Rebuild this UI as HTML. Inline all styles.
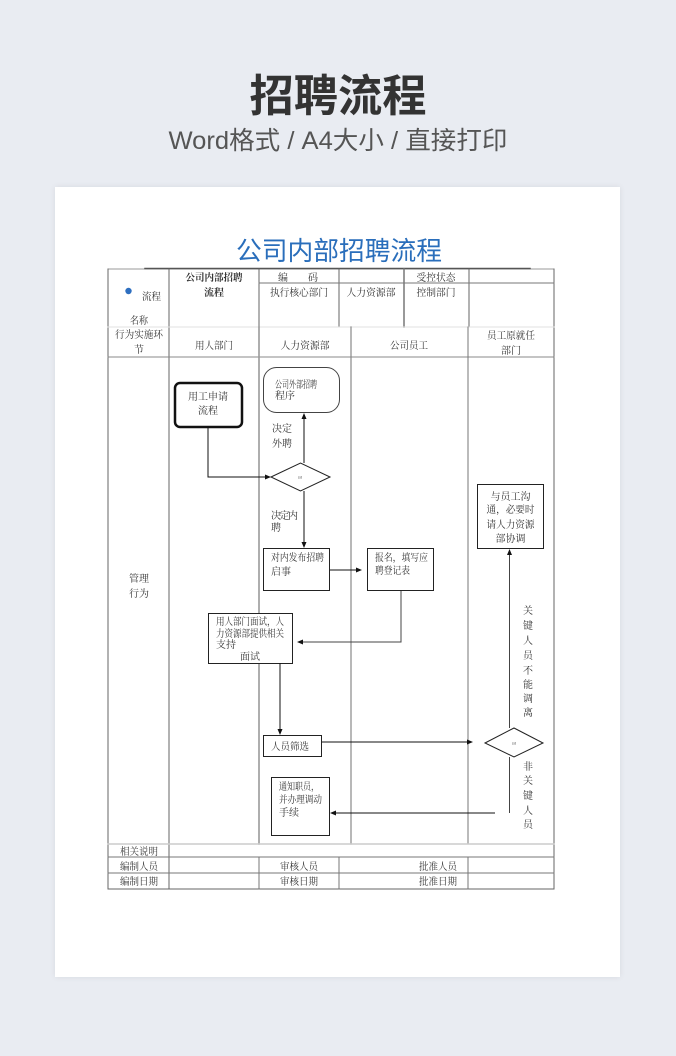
<!DOCTYPE html>
<html><head><meta charset="utf-8">
<style>
html,body{margin:0;padding:0;}
body{width:676px;height:1056px;background:#e9ecf2;position:relative;overflow:hidden;}
.card{position:absolute;left:55px;top:187px;width:565px;height:790px;background:#fff;box-shadow:0 0 6px rgba(0,0,0,0.08);}
svg{position:absolute;left:0;top:0;}
.t{font-family:"Liberation Serif","Noto Serif CJK SC",serif;font-size:10px;fill:#333;}
</style></head>
<body>
<div class="card"></div>
<svg width="676" height="1056" viewBox="0 0 676 1056" xmlns="http://www.w3.org/2000/svg">
<!-- page headings -->
<text x="338" y="111" text-anchor="middle" font-family="Liberation Sans,'Noto Sans CJK SC',sans-serif" font-size="44" font-weight="bold" fill="#333" textLength="177" lengthAdjust="spacingAndGlyphs">招聘流程</text>
<text x="338" y="149" text-anchor="middle" font-family="Liberation Sans,'Noto Sans CJK SC',sans-serif" font-size="25" fill="#555" textLength="339" lengthAdjust="spacingAndGlyphs">Word格式 / A4大小 / 直接打印</text>

<!-- document title -->
<text x="339" y="260" text-anchor="middle" font-family="Liberation Sans,'Noto Sans CJK SC',sans-serif" font-size="26" fill="#2a6ebb" textLength="206" lengthAdjust="spacingAndGlyphs">公司内部招聘流程</text>

<!-- table frame -->
<g fill="none" stroke-linecap="square">
  <line x1="108" y1="269" x2="554" y2="269" stroke="#999" stroke-width="1"/>
  <line x1="145" y1="268.5" x2="530" y2="268.5" stroke="#555" stroke-width="1.5"/>
  <line x1="108" y1="269" x2="108" y2="889" stroke="#666" stroke-width="1"/>
  <line x1="554" y1="269" x2="554" y2="889" stroke="#666" stroke-width="1"/>
  <line x1="169" y1="269" x2="169" y2="889" stroke="#666" stroke-width="1"/>
  <line x1="259" y1="269" x2="259" y2="327" stroke="#666" stroke-width="1"/>
  <line x1="339" y1="269" x2="339" y2="327" stroke="#666" stroke-width="1"/>
  <line x1="404" y1="269" x2="404" y2="327" stroke="#777" stroke-width="1.5"/>
  <line x1="469" y1="269" x2="469" y2="327" stroke="#666" stroke-width="1"/>
  <line x1="259" y1="283" x2="554" y2="283" stroke="#777" stroke-width="1"/>
  <line x1="108" y1="327" x2="554" y2="327" stroke="#e2e2e2" stroke-width="1"/>
  <line x1="108" y1="357" x2="554" y2="357" stroke="#888" stroke-width="1"/>
  <!-- lanes -->
  <line x1="259" y1="327" x2="259" y2="844" stroke="#999" stroke-width="1.6"/>
  <line x1="351" y1="327" x2="351" y2="844" stroke="#888" stroke-width="1.2"/>
  <line x1="468" y1="327" x2="468" y2="844" stroke="#777" stroke-width="1"/>
  <!-- bottom rows -->
  <line x1="108" y1="844" x2="554" y2="844" stroke="#ccc" stroke-width="1.5"/>
  <line x1="108" y1="857" x2="554" y2="857" stroke="#777" stroke-width="1"/>
  <line x1="108" y1="873" x2="554" y2="873" stroke="#777" stroke-width="1"/>
  <line x1="108" y1="889" x2="554" y2="889" stroke="#666" stroke-width="1"/>
  <line x1="259" y1="857" x2="259" y2="889" stroke="#777" stroke-width="1"/>
  <line x1="339" y1="857" x2="339" y2="889" stroke="#777" stroke-width="1"/>
  <line x1="468" y1="857" x2="468" y2="889" stroke="#777" stroke-width="1"/>
</g>

<!-- header texts -->
<circle cx="128.5" cy="291" r="3.2" fill="#2e6fc0"/>
<text class="t" x="142" y="300" textLength="19" lengthAdjust="spacingAndGlyphs">流程</text>
<text class="t" x="130" y="324" textLength="18" lengthAdjust="spacingAndGlyphs">名称</text>
<text class="t" x="139" y="338" text-anchor="middle" textLength="48" lengthAdjust="spacingAndGlyphs">行为实施环</text>
<text class="t" x="139" y="353" text-anchor="middle">节</text>
<text class="t" x="214" y="281" text-anchor="middle" font-weight="bold" fill="#111" textLength="57" lengthAdjust="spacingAndGlyphs">公司内部招聘</text>
<text class="t" x="214" y="296" text-anchor="middle" font-weight="bold" fill="#111">流程</text>
<text class="t" x="283" y="281" text-anchor="middle">编</text>
<text class="t" x="313" y="281" text-anchor="middle">码</text>
<text class="t" x="436" y="281" text-anchor="middle" textLength="39" lengthAdjust="spacingAndGlyphs">受控状态</text>
<text class="t" x="299" y="296" text-anchor="middle" textLength="58" lengthAdjust="spacingAndGlyphs">执行核心部门</text>
<text class="t" x="371" y="296" text-anchor="middle" textLength="49" lengthAdjust="spacingAndGlyphs">人力资源部</text>
<text class="t" x="436" y="296" text-anchor="middle" textLength="39" lengthAdjust="spacingAndGlyphs">控制部门</text>
<text class="t" x="214" y="349" text-anchor="middle" textLength="38" lengthAdjust="spacingAndGlyphs">用人部门</text>
<text class="t" x="305" y="349" text-anchor="middle" textLength="49" lengthAdjust="spacingAndGlyphs">人力资源部</text>
<text class="t" x="409" y="349" text-anchor="middle" textLength="38" lengthAdjust="spacingAndGlyphs">公司员工</text>
<text class="t" x="511" y="339" text-anchor="middle" textLength="48" lengthAdjust="spacingAndGlyphs">员工原就任</text>
<text class="t" x="511" y="354" text-anchor="middle">部门</text>

<!-- left label -->
<text class="t" x="139" y="582" text-anchor="middle">管理</text>
<text class="t" x="139" y="597" text-anchor="middle">行为</text>

<!-- shapes -->
<rect x="175" y="383" width="67" height="44" rx="5" ry="5" fill="#fff" stroke="#111" stroke-width="2.5"/>
<text class="t" x="208" y="400" text-anchor="middle" fill="#222">用工申请</text>
<text class="t" x="208" y="414" text-anchor="middle" fill="#222">流程</text>

<rect x="263.5" y="367.5" width="76" height="45" rx="13" ry="13" fill="#fff" stroke="#444" stroke-width="1"/>
<text class="t" x="275" y="388" font-size="9" textLength="42" lengthAdjust="spacingAndGlyphs">公司外部招聘</text>
<text class="t" x="275" y="399" font-size="9">程序</text>

<text class="t" x="272" y="432" font-size="9.5" textLength="20" lengthAdjust="spacingAndGlyphs">决定</text>
<text class="t" x="272" y="447" font-size="9.5" textLength="20" lengthAdjust="spacingAndGlyphs">外聘</text>

<polygon points="271,477 300.5,463 330,477 300.5,491" fill="#fff" stroke="#222" stroke-width="1"/>
<text x="300" y="478.5" text-anchor="middle" font-family="Liberation Sans,sans-serif" font-size="4" fill="#555">sd</text>

<text class="t" x="271" y="519" font-size="9" textLength="27" lengthAdjust="spacing">决定内</text>
<text class="t" x="271" y="531" font-size="9">聘</text>

<rect x="263.5" y="548.5" width="66" height="42" fill="#fff" stroke="#222" stroke-width="1"/>
<text class="t" x="271" y="561" font-size="9.5" textLength="53" lengthAdjust="spacingAndGlyphs">对内发布招聘</text>
<text class="t" x="271" y="575" font-size="9.5">启事</text>

<rect x="367.5" y="548.5" width="66" height="42" fill="#fff" stroke="#222" stroke-width="1"/>
<text class="t" x="375" y="561" font-size="9.5" textLength="53" lengthAdjust="spacingAndGlyphs">报名，填写应</text>
<text class="t" x="375" y="574" font-size="9.5" textLength="35" lengthAdjust="spacingAndGlyphs">聘登记表</text>

<rect x="477.5" y="484.5" width="66" height="64" fill="#fff" stroke="#222" stroke-width="1"/>
<text class="t" x="510.5" y="500" text-anchor="middle" font-size="9.5" textLength="40" lengthAdjust="spacingAndGlyphs">与员工沟</text>
<text class="t" x="510.5" y="513" text-anchor="middle" font-size="9.5" textLength="48" lengthAdjust="spacingAndGlyphs">通，必要时</text>
<text class="t" x="510.5" y="528" text-anchor="middle" font-size="9.5" textLength="48" lengthAdjust="spacingAndGlyphs">请人力资源</text>
<text class="t" x="510.5" y="542" text-anchor="middle" font-size="9.5" textLength="30" lengthAdjust="spacingAndGlyphs">部协调</text>

<rect x="208.5" y="613.5" width="84" height="50" fill="#fff" stroke="#222" stroke-width="1"/>
<text class="t" x="216" y="625" font-size="9" textLength="68" lengthAdjust="spacingAndGlyphs">用人部门面试，人</text>
<text class="t" x="216" y="637" font-size="9" textLength="68" lengthAdjust="spacingAndGlyphs">力资源部提供相关</text>
<text class="t" x="216" y="648" font-size="9">支持</text>
<text class="t" x="250" y="660" text-anchor="middle" font-size="9.5">面试</text>

<rect x="263.5" y="735.5" width="58" height="21" fill="#fff" stroke="#222" stroke-width="1"/>
<text class="t" x="271" y="750" font-size="10" textLength="38" lengthAdjust="spacingAndGlyphs">人员筛选</text>

<polygon points="485,743 514,728 543,743 514,757" fill="#fff" stroke="#222" stroke-width="1"/>
<text x="514" y="744.5" text-anchor="middle" font-family="Liberation Sans,sans-serif" font-size="4" fill="#555">sd</text>

<rect x="271.5" y="777.5" width="58" height="58" fill="#fff" stroke="#222" stroke-width="1"/>
<text class="t" x="279" y="790" font-size="8.5" textLength="40" lengthAdjust="spacingAndGlyphs">通知职员，</text>
<text class="t" x="279" y="803" font-size="8.5" textLength="43" lengthAdjust="spacingAndGlyphs">并办理调动</text>
<text class="t" x="279" y="816" font-size="8.5">手续</text>

<!-- vertical labels -->
<g class="t" font-size="9.5" text-anchor="middle">
<text class="t" x="528" y="614" text-anchor="middle">关</text>
<text class="t" x="528" y="629" text-anchor="middle">键</text>
<text class="t" x="528" y="644" text-anchor="middle">人</text>
<text class="t" x="528" y="659" text-anchor="middle">员</text>
<text class="t" x="528" y="674" text-anchor="middle">不</text>
<text class="t" x="528" y="688" text-anchor="middle">能</text>
<text class="t" x="528" y="702" text-anchor="middle">调</text>
<text class="t" x="528" y="716" text-anchor="middle">离</text>
<text class="t" x="528" y="770" text-anchor="middle">非</text>
<text class="t" x="528" y="784" text-anchor="middle">关</text>
<text class="t" x="528" y="799" text-anchor="middle">键</text>
<text class="t" x="528" y="814" text-anchor="middle">人</text>
<text class="t" x="528" y="828" text-anchor="middle">员</text>
</g>

<!-- connectors -->
<g fill="none" stroke="#111" stroke-width="1">
  <polyline points="208,427 208,477 266,477"/>
  <line x1="304" y1="463" x2="304" y2="417"/>
  <line x1="304" y1="491" x2="304" y2="544"/>
  <line x1="330" y1="570" x2="358" y2="570"/>
  <polyline points="401,591 401,642 301,642" stroke="#444"/>
  <line x1="280" y1="663" x2="280" y2="731"/>
  <line x1="322" y1="742" x2="469" y2="742"/>
  <line x1="509.5" y1="728" x2="509.5" y2="553" stroke="#444"/>
  <line x1="509.5" y1="757" x2="509.5" y2="813" stroke="#444"/>
  <line x1="495" y1="813" x2="334" y2="813"/>
</g>
<g fill="#111">
  <polygon points="271,477 265,474.5 265,479.5"/>
  <polygon points="304,413 301.5,419 306.5,419"/>
  <polygon points="304,548 301.5,542 306.5,542"/>
  <polygon points="362,570 356,567.5 356,572.5"/>
  <polygon points="297,642 303,639.5 303,644.5"/>
  <polygon points="280,735 277.5,729 282.5,729"/>
  <polygon points="473,742 467,739.5 467,744.5"/>
  <polygon points="509.5,549 507,555 512,555"/>
  <polygon points="330,813 336,810.5 336,815.5"/>
</g>

<!-- bottom row labels -->
<text class="t" x="139" y="855" text-anchor="middle" textLength="38" lengthAdjust="spacingAndGlyphs">相关说明</text>
<text class="t" x="139" y="870" text-anchor="middle" textLength="38" lengthAdjust="spacingAndGlyphs">编制人员</text>
<text class="t" x="139" y="885" text-anchor="middle" textLength="38" lengthAdjust="spacingAndGlyphs">编制日期</text>
<text class="t" x="299" y="870" text-anchor="middle" textLength="38" lengthAdjust="spacingAndGlyphs">审核人员</text>
<text class="t" x="299" y="885" text-anchor="middle" textLength="38" lengthAdjust="spacingAndGlyphs">审核日期</text>
<text class="t" x="438" y="870" text-anchor="middle" textLength="38" lengthAdjust="spacingAndGlyphs">批准人员</text>
<text class="t" x="438" y="885" text-anchor="middle" textLength="38" lengthAdjust="spacingAndGlyphs">批准日期</text>
</svg>
</body></html>
